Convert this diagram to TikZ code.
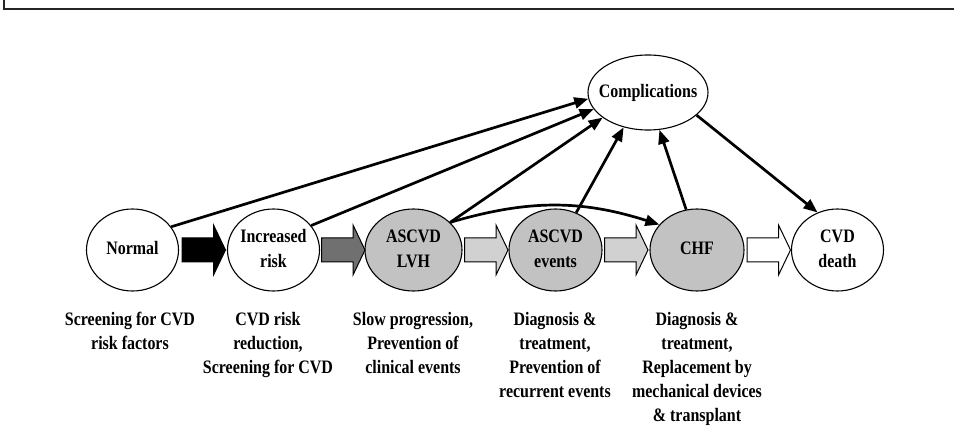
\documentclass[tikz,border=0pt]{standalone}
\usepackage{fontspec}
\setmainfont[FakeStretch=0.84]{Liberation Serif}
\usetikzlibrary{arrows.meta,shapes.geometric}
\newcommand\inbox[1]{\makebox[0pt]{\begin{tabular}{@{}c@{}}#1\end{tabular}}}
\newcommand\blockarrow[2]{\draw[blk, fill=#2] (#1) ++(-21.5,-12) -- ++(31.5,0) -- ++(0,-13) -- ++(12,25) -- ++(-12,25) -- ++(0,-13) -- ++(-31.5,0) -- cycle;}
\begin{document}
\begin{tikzpicture}[x=1pt,y=1pt,
  stage/.style={ellipse, draw, line width=1.1pt, minimum width=92pt, minimum height=82pt, inner sep=0pt, font=\fontsize{19}{25}\selectfont\bfseries},
  grayst/.style={stage, fill=black!24},
  blk/.style={draw, line width=1pt, line join=miter},
  link/.style={line width=2.7pt, -{Triangle[length=14pt,width=11pt]}},
  caption/.style={anchor=north, align=center, inner sep=0pt, font=\fontsize{19}{24}\selectfont\bfseries}
]
\useasboundingbox (0,0) rectangle (954,445);
\draw[line width=2pt, color=black!85] (3.5,445) -- (3.5,436) -- (954,436);

\node[stage] (normal) at (132.5,195) {\inbox{Normal}};
\node[stage] (inc) at (273.5,195) {\inbox{Increased\\risk}};
\node[grayst, minimum width=97pt] (lvh) at (413.5,195) {\inbox{ASCVD\\LVH}};
\node[grayst, minimum width=93pt] (evt) at (555.5,195) {\inbox{ASCVD\\events}};
\node[grayst, minimum width=94pt] (chf) at (697,195) {\inbox{CHF}};
\node[stage] (death) at (837.5,195) {\inbox{CVD\\death}};
\node[stage, minimum width=120pt, minimum height=75pt] (comp) at (648,352.5) {\inbox{Complications}};

\coordinate (a1) at (203.5,195);
\coordinate (a2) at (343,195);
\coordinate (a3) at (486,195);
\coordinate (a4) at (626,195);
\coordinate (a5) at (768.5,195);
\blockarrow{a1}{black}
\blockarrow{a2}{black!56}
\blockarrow{a3}{black!18}
\blockarrow{a4}{black!18}
\blockarrow{a5}{white}

\draw[link] (normal.31) -- (comp.186);
\draw[link] (inc.33) -- (comp.197);
\draw[link] (lvh.37) -- (comp.209);
\draw[link] (evt.61) -- (comp.235);
\draw[link] (chf.105) -- (comp.287);
\draw[link] (lvh.37) to[bend left=17] (chf.146);
\draw[link] (comp.335) -- (death.118);

\node[caption] (l1) at (130,133) {Screening for CVD\\risk factors};
\node[caption] (l2) at (268,133) {CVD risk\\reduction,\\Screening for CVD};
\node[caption] (l3) at (413,133) {Slow progression,\\Prevention of\\clinical events};
\node[caption] (l4) at (555,133) {Diagnosis \&\\treatment,\\Prevention of\\recurrent events};
\node[caption] (l5) at (697,133) {Diagnosis \&\\treatment,\\Replacement by\\mechanical devices\\\& transplant};
\end{tikzpicture}
\end{document}
